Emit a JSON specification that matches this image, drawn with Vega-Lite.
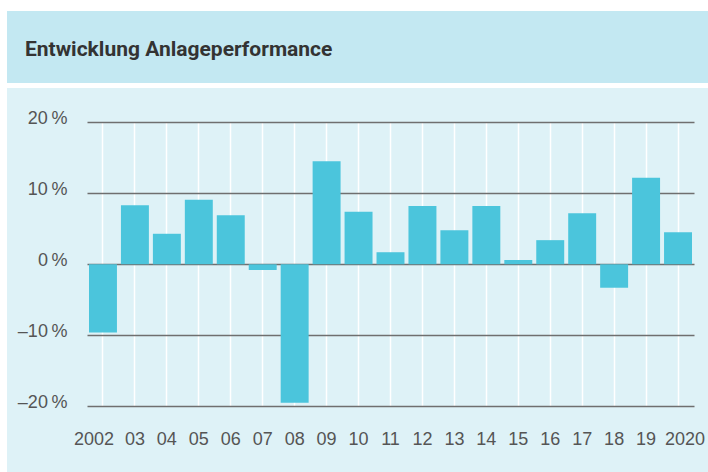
{
  "$schema": "https://vega.github.io/schema/vega-lite/v6.json",
  "background": "#ffffff",
  "padding": {"left": 7, "top": 11, "right": 0, "bottom": 0},
  "spacing": 5,
  "config": {"view": {"stroke": null}, "font": "Liberation Sans"},
  "vconcat": [
    {
      "width": 701,
      "height": 72,
      "view": {"fill": "#c3e8f2", "stroke": null},
      "title": {
        "text": "Entwicklung Anlageperformance",
        "anchor": "start",
        "orient": "top",
        "frame": "group",
        "offset": -66,
        "dx": 18,
        "baseline": "alphabetic",
        "font": "Roboto",
        "fontSize": 21,
        "fontWeight": "bold",
        "color": "#333333"
      },
      "data": {"values": []},
      "mark": {"type": "text"},
      "encoding": {}
    },
    {
      "width": 701,
      "height": 384,
      "view": {"fill": "#def2f7", "stroke": null},
      "data": {
        "values": [
          {"year": "2002", "value": -9.6},
          {"year": "03", "value": 8.3},
          {"year": "04", "value": 4.3},
          {"year": "05", "value": 9.1},
          {"year": "06", "value": 6.9},
          {"year": "07", "value": -0.8},
          {"year": "08", "value": -19.5},
          {"year": "09", "value": 14.5},
          {"year": "10", "value": 7.4},
          {"year": "11", "value": 1.7},
          {"year": "12", "value": 8.2},
          {"year": "13", "value": 4.8},
          {"year": "14", "value": 8.2},
          {"year": "15", "value": 0.6},
          {"year": "16", "value": 3.4},
          {"year": "17", "value": 7.2},
          {"year": "18", "value": -3.3},
          {"year": "19", "value": 12.2},
          {"year": "2020", "value": 4.5}
        ]
      },
      "mark": {"type": "bar", "color": "#4bc5dc"},
      "encoding": {
        "x": {
          "field": "year",
          "type": "ordinal",
          "sort": null,
          "scale": {"range": [80, 687], "paddingInner": 0.125, "paddingOuter": 0.0625},
          "axis": {
            "title": null,
            "orient": "top",
            "offset": -356,
            "domain": false,
            "ticks": false,
            "grid": true,
            "gridColor": "#ffffff",
            "gridWidth": 1.5,
            "bandPosition": 0.5,
            "labelPadding": 0,
            "labelAngle": 0,
            "labelBaseline": "alphabetic",
            "labelFontSize": 18,
            "labelColor": "#555555",
            "labelOffset": {
              "condition": [
                {"test": "datum.value === '2002'", "value": -9},
                {"test": "datum.value === '2020'", "value": 7}
              ],
              "value": 0
            }
          }
        },
        "y": {
          "field": "value",
          "type": "quantitative",
          "scale": {"domain": [-20, 20], "range": [318.3, 34.3], "nice": false, "zero": false},
          "axis": {
            "title": null,
            "values": [-20, -10, 0, 10, 20],
            "offset": -62,
            "domain": false,
            "ticks": false,
            "labelPadding": 2,
            "labelFontSize": 18,
            "labelColor": "#555555",
            "labelOffset": -4,
            "labelExpr": "(datum.value < 0 ? '\u2013' + abs(datum.value) : datum.value) + '\u2009%'",
            "grid": true,
            "gridColor": "#6f6f6f",
            "gridWidth": 1.5
          }
        }
      }
    }
  ]
}
